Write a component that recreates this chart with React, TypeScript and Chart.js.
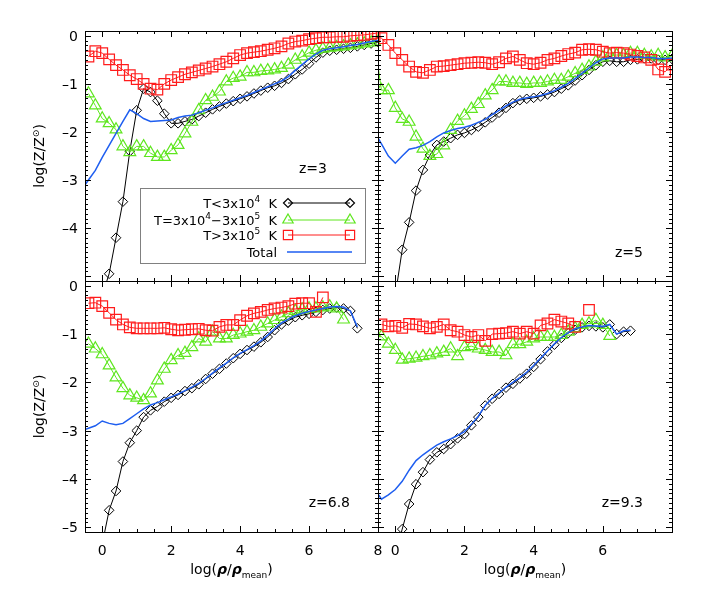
import React, { useEffect, useRef } from 'react';
import { Chart, registerables } from 'chart.js';

Chart.register(...registerables);

const W = 706;
const H = 605;
const FAMILY = '"DejaVu Sans", sans-serif';

// Bins of log(rho/rho_mean)
const X_GRID = [-0.6, -0.4, -0.2, 0.0, 0.2, 0.4, 0.6, 0.8, 1.0, 1.2, 1.4, 1.6, 1.8, 2.0, 2.2, 2.4, 2.6, 2.8, 3.0, 3.2, 3.4, 3.6, 3.8, 4.0, 4.2, 4.4, 4.6, 4.8, 5.0, 5.2, 5.4, 5.6, 5.8, 6.0, 6.2, 6.4, 6.6, 6.8, 7.0, 7.2, 7.4, 7.6, 7.8, 8.0];

// ---- z = 3 ----
const Z3_COLD = [null, null, null, -5.4, -4.95, -4.2, -3.45, -2.4, -1.55, -1.1, -1.17, -1.35, -1.62, -1.82, -1.82, -1.78, -1.74, -1.67, -1.6, -1.53, -1.47, -1.41, -1.36, -1.31, -1.26, -1.2, -1.14, -1.08, -1.04, -0.98, -0.9, -0.8, -0.7, -0.58, -0.45, -0.35, -0.31, -0.29, -0.27, -0.25, -0.22, -0.19, -0.16, -0.13];
const Z3_WARM = [null, -1.2, -1.45, -1.72, -1.82, -1.95, -2.3, -2.42, -2.3, -2.3, -2.44, -2.52, -2.52, -2.38, -2.27, -2.03, -1.79, -1.55, -1.34, -1.27, -1.16, -0.95, -0.88, -0.85, -0.76, -0.76, -0.73, -0.72, -0.7, -0.67, -0.6, -0.5, -0.43, -0.35, -0.3, -0.27, -0.25, -0.24, -0.22, -0.2, -0.18, -0.16, -0.14, -0.12];
const Z3_HOT = [null, -0.43, -0.32, -0.36, -0.49, -0.61, -0.71, -0.82, -0.9, -1.0, -1.1, -1.12, -1.0, -0.92, -0.86, -0.8, -0.76, -0.72, -0.68, -0.64, -0.59, -0.54, -0.47, -0.4, -0.36, -0.34, -0.32, -0.29, -0.26, -0.22, -0.16, -0.12, -0.1, -0.07, -0.05, -0.03, -0.03, -0.02, -0.02, 0.0, 0.01, 0.02, 0.04, 0.06];
const Z3_TOTAL = [-3.2, -3.0, -2.8, -2.53, -2.28, -2.03, -1.78, -1.54, -1.62, -1.72, -1.78, -1.77, -1.76, -1.75, -1.7, -1.67, -1.65, -1.6, -1.55, -1.5, -1.44, -1.39, -1.34, -1.29, -1.24, -1.18, -1.12, -1.06, -1.0, -0.94, -0.85, -0.72, -0.6, -0.48, -0.38, -0.3, -0.27, -0.25, -0.23, -0.2, -0.18, -0.15, -0.12, -0.1];

// ---- z = 5 ----
const Z5_COLD = [null, null, null, -5.4, -4.45, -3.88, -3.22, -2.79, -2.48, -2.27, -2.2, -2.13, -2.06, -2.02, -1.96, -1.89, -1.8, -1.7, -1.6, -1.5, -1.4, -1.34, -1.31, -1.29, -1.26, -1.22, -1.17, -1.1, -1.03, -0.93, -0.82, -0.71, -0.61, -0.54, -0.52, -0.54, -0.54, -0.5, -0.49, -0.47, -0.47, -0.5, -0.5, -0.48];
const Z5_WARM = [-0.12, -1.13, -1.13, -1.5, -1.73, -1.79, -2.1, -2.35, -2.5, -2.46, -2.28, -1.96, -1.77, -1.66, -1.52, -1.42, -1.24, -1.13, -0.95, -0.95, -0.98, -0.98, -1.0, -0.98, -0.98, -0.95, -0.92, -0.92, -0.85, -0.78, -0.71, -0.64, -0.54, -0.45, -0.4, -0.4, -0.4, -0.36, -0.36, -0.4, -0.43, -0.4, -0.45, -0.42];
const Z5_HOT = [0.0, -0.05, -0.19, -0.36, -0.5, -0.64, -0.75, -0.77, -0.71, -0.64, -0.63, -0.61, -0.59, -0.57, -0.56, -0.55, -0.56, -0.59, -0.55, -0.47, -0.43, -0.5, -0.57, -0.59, -0.56, -0.5, -0.47, -0.42, -0.38, -0.35, -0.29, -0.28, -0.29, -0.33, -0.36, -0.35, -0.36, -0.39, -0.42, -0.45, -0.5, -0.7, -0.75, -0.6];
const Z5_TOTAL = [-2.0, -2.25, -2.5, -2.65, -2.5, -2.36, -2.33, -2.28, -2.2, -2.1, -2.02, -1.97, -1.93, -1.9, -1.86, -1.8, -1.74, -1.64, -1.55, -1.46, -1.38, -1.32, -1.29, -1.27, -1.24, -1.2, -1.14, -1.07, -0.99, -0.89, -0.78, -0.67, -0.56, -0.48, -0.46, -0.46, -0.46, -0.44, -0.44, -0.45, -0.45, -0.47, -0.47, -0.46];

// ---- z = 6.8 ----
const Z68_COLD = [null, null, null, -5.35, -4.65, -4.25, -3.64, -3.25, -3.0, -2.72, -2.58, -2.5, -2.4, -2.32, -2.26, -2.18, -2.12, -2.04, -1.93, -1.82, -1.72, -1.61, -1.5, -1.41, -1.33, -1.26, -1.17, -1.06, -0.92, -0.8, -0.72, -0.65, -0.61, -0.58, -0.54, -0.5, -0.47, -0.45, -0.47, -0.52, -0.88, null, null, null];
const Z68_WARM = [null, -1.2, -1.3, -1.42, -1.65, -1.9, -2.12, -2.27, -2.32, -2.37, -2.23, -1.96, -1.72, -1.54, -1.44, -1.39, -1.27, -1.09, -1.16, -0.95, -1.09, -1.09, -1.02, -0.99, -0.95, -0.92, -0.85, -0.78, -0.71, -0.64, -0.57, -0.52, -0.49, -0.47, -0.47, -0.45, -0.43, -0.47, -0.7, null, null, null, null, null];
const Z68_HOT = [null, -0.36, -0.35, -0.42, -0.56, -0.7, -0.8, -0.86, -0.88, -0.88, -0.88, -0.88, -0.87, -0.9, -0.92, -0.91, -0.9, -0.89, -0.92, -0.93, -0.85, -0.81, -0.81, -0.71, -0.62, -0.57, -0.54, -0.5, -0.47, -0.45, -0.42, -0.37, -0.36, -0.36, -0.54, -0.24, null, null, null, null, null, null, null, null];
const Z68_TOTAL = [-3.0, -2.95, -2.9, -2.8, -2.85, -2.88, -2.85, -2.75, -2.65, -2.55, -2.47, -2.42, -2.36, -2.3, -2.24, -2.17, -2.1, -2.02, -1.92, -1.81, -1.7, -1.6, -1.49, -1.4, -1.32, -1.24, -1.14, -1.02, -0.89, -0.77, -0.69, -0.62, -0.57, -0.53, -0.5, -0.47, -0.44, -0.43, -0.44, -0.52, -0.85, null, null, null];

// ---- z = 9.3 ----
const Z93_COLD = [null, null, null, -5.6, -5.04, -4.52, -4.11, -3.86, -3.6, -3.45, -3.38, -3.28, -3.16, -3.07, -2.89, -2.72, -2.48, -2.34, -2.24, -2.11, -2.03, -1.92, -1.82, -1.68, -1.52, -1.36, -1.22, -1.08, -0.98, -0.91, -0.86, -0.83, -0.84, -0.86, -0.8, -1.0, -0.95, -0.93, null, null, null, null, null, null];
const Z93_WARM = [-0.98, -1.05, -1.2, -1.33, -1.53, -1.51, -1.49, -1.46, -1.44, -1.4, -1.37, -1.3, -1.46, -1.27, -1.25, -1.3, -1.33, -1.37, -1.37, -1.44, -1.21, -1.21, -1.16, -1.09, -1.06, -1.06, -1.06, -1.02, -0.95, -0.88, -0.81, -0.78, -0.71, -0.81, -1.04, null, null, null, null, null, null, null, null, null];
const Z93_HOT = [null, -0.8, -0.84, -0.83, -0.87, -0.79, -0.8, -0.84, -0.88, -0.85, -0.8, -0.92, -0.95, -1.02, -1.06, -1.02, -1.14, -1.0, -0.99, -0.98, -0.95, -0.99, -0.95, -0.99, -0.82, -0.78, -0.7, -0.74, -0.78, -0.85, null, -0.5, null, null, null, null, null, null, null, null, null, null, null, null];
const Z93_TOTAL = [-4.2, -4.42, -4.33, -4.22, -4.05, -3.82, -3.62, -3.5, -3.4, -3.3, -3.23, -3.17, -3.1, -3.02, -2.87, -2.7, -2.48, -2.33, -2.22, -2.1, -2.0, -1.9, -1.79, -1.65, -1.5, -1.35, -1.2, -1.07, -0.97, -0.89, -0.85, -0.82, -0.83, -0.84, -0.8, -1.0, -0.93, -0.92, null, null, null, null, null, null];

// Axes
const X_MIN = -0.5;
const X_MAX = 8;
const Y_MIN = -5.1;
const Y_MAX = 0.1;
const X_LABELS_LEFT = [0, 2, 4, 6, 8];
const X_LABELS_RIGHT = [0, 2, 4, 6];
const Y_LABELS_TOP = [0, -1, -2, -3, -4];
const Y_LABELS_BOTTOM = [0, -1, -2, -3, -4, -5];

const SERIES_NAMES = ['T<3x10^4 K', 'T=3x10^4-3x10^5 K', 'T>3x10^5 K', 'Total'];

const COLORS = {
  cold: '#000000',
  warm: '#5ee61e',
  hot: '#ff1c1c',
  total: '#1e5ef0',
};

type Part = { t: string; size?: number; style?: string; dy?: number };

type Panel = {
  name: string;
  zText: string;
  area: { left: number; top: number; right: number; bottom: number };
  cold: (number | null)[];
  warm: (number | null)[];
  hot: (number | null)[];
  total: (number | null)[];
  yLabels: number[] | null;
  xLabels: number[] | null;
  legend: boolean;
  zRightInset: number;
  zBaseline: { fromTop?: number; fromBottom?: number };
};

const PANELS: Panel[] = [
  { name: 'z3', zText: 'z=3', area: { left: 85, top: 31, right: 378, bottom: 281 }, cold: Z3_COLD, warm: Z3_WARM, hot: Z3_HOT, total: Z3_TOTAL, yLabels: Y_LABELS_TOP, xLabels: null, legend: true, zRightInset: 51, zBaseline: { fromTop: 142 } },
  { name: 'z5', zText: 'z=5', area: { left: 378, top: 31, right: 672, bottom: 281 }, cold: Z5_COLD, warm: Z5_WARM, hot: Z5_HOT, total: Z5_TOTAL, yLabels: null, xLabels: null, legend: false, zRightInset: 29, zBaseline: { fromBottom: 24 } },
  { name: 'z68', zText: 'z=6.8', area: { left: 85, top: 281, right: 378, bottom: 532 }, cold: Z68_COLD, warm: Z68_WARM, hot: Z68_HOT, total: Z68_TOTAL, yLabels: Y_LABELS_BOTTOM, xLabels: X_LABELS_LEFT, legend: false, zRightInset: 28, zBaseline: { fromBottom: 25 } },
  { name: 'z93', zText: 'z=9.3', area: { left: 378, top: 281, right: 672, bottom: 532 }, cold: Z93_COLD, warm: Z93_WARM, hot: Z93_HOT, total: Z93_TOTAL, yLabels: null, xLabels: X_LABELS_RIGHT, legend: false, zRightInset: 29, zBaseline: { fromBottom: 25 } },
];

function font(size: number, style = '') {
  return `${style} ${size}px ${FAMILY}`.trim();
}

function drawRich(ctx: CanvasRenderingContext2D, parts: Part[], x: number, y: number, align: 'left' | 'center' | 'right', base: number) {
  const fonts = parts.map((p) => font(p.size ?? base, p.style ?? ''));
  const widths = parts.map((p, i) => {
    ctx.font = fonts[i];
    return ctx.measureText(p.t).width;
  });
  const total = widths.reduce((a, b) => a + b, 0);
  let cx = align === 'left' ? x : align === 'center' ? x - total / 2 : x - total;
  ctx.textAlign = 'left';
  ctx.textBaseline = 'alphabetic';
  parts.forEach((p, i) => {
    ctx.font = fonts[i];
    ctx.fillText(p.t, cx, y + (p.dy ?? 0));
    cx += widths[i];
  });
}

function markerPath(ctx: CanvasRenderingContext2D, style: string, x: number, y: number, r: number) {
  ctx.beginPath();
  if (style === 'rectRot') {
    ctx.moveTo(x - r, y);
    ctx.lineTo(x, y - r);
    ctx.lineTo(x + r, y);
    ctx.lineTo(x, y + r);
    ctx.closePath();
  } else if (style === 'triangle') {
    ctx.moveTo(x, y - r);
    ctx.lineTo(x + 0.866 * r, y + 0.5 * r);
    ctx.lineTo(x - 0.866 * r, y + 0.5 * r);
    ctx.closePath();
  } else {
    const s = Math.SQRT1_2 * r;
    ctx.rect(x - s, y - s, 2 * s, 2 * s);
  }
  ctx.stroke();
}

function label(v: number) {
  return v < 0 ? '\u2013' + String(Math.abs(v)) : String(v);
}

function makePlugin(panel: Panel) {
  return {
    id: 'panelDecor_' + panel.name,
    afterDatasetsDraw(chart: any) {
      const ctx: CanvasRenderingContext2D = chart.ctx;
      const xs = chart.scales.x;
      const ys = chart.scales.y;
      const { left, top, right, bottom } = chart.chartArea;
      ctx.save();
      ctx.strokeStyle = '#000';
      ctx.fillStyle = '#000';
      ctx.lineWidth = 1;

      // Legend (inside first panel)
      if (panel.legend) {
        const bx = left + 55;
        const by = top + 157;
        ctx.fillStyle = '#fff';
        ctx.fillRect(bx, by, 225, 75);
        ctx.strokeStyle = '#808080';
        ctx.strokeRect(bx + 0.5, by + 0.5, 225, 75);
        const textRight = left + 192;
        const m1 = left + 203;
        const m2 = left + 265;
        const rows: { y: number; color: string; style: string | null; r: number; parts: Part[] }[] = [
          { y: top + 172, color: COLORS.cold, style: 'rectRot', r: 4.5, parts: [{ t: 'T<3x10' }, { t: '4', size: 9, dy: -6 }, { t: '  K' }] },
          { y: top + 189, color: COLORS.warm, style: 'triangle', r: 6, parts: [{ t: 'T=3x10' }, { t: '4', size: 9, dy: -6 }, { t: '\u22123x10' }, { t: '5', size: 9, dy: -6 }, { t: '  K' }] },
          { y: top + 204, color: COLORS.hot, style: 'rect', r: 6.5, parts: [{ t: 'T>3x10' }, { t: '5', size: 9, dy: -6 }, { t: '  K' }] },
          { y: top + 221, color: COLORS.total, style: null, r: 0, parts: [{ t: 'Total' }] },
        ];
        rows.forEach((row) => {
          ctx.fillStyle = '#000';
          drawRich(ctx, row.parts, textRight, row.y + 5, 'right', 13);
          ctx.strokeStyle = row.color;
          ctx.lineWidth = row.style ? 1 : 1.5;
          ctx.beginPath();
          ctx.moveTo(row.style ? m1 : m1 - 1, row.y);
          ctx.lineTo(row.style ? m2 : m2 + 2, row.y);
          ctx.stroke();
          if (row.style) {
            ctx.lineWidth = 1.2;
            markerPath(ctx, row.style, m1, row.y, row.r);
            markerPath(ctx, row.style, m2, row.y, row.r);
          }
        });
        ctx.strokeStyle = '#000';
        ctx.fillStyle = '#000';
        ctx.lineWidth = 1;
      }

      // Frame
      ctx.strokeRect(left + 0.5, top + 0.5, right - left, bottom - top);

      // Ticks (inward on all four sides)
      ctx.beginPath();
      for (let k = 0; k <= 16; k++) {
        const v = k * 0.5;
        const px = Math.round(xs.getPixelForValue(v)) + 0.5;
        const len = k % 4 === 0 ? 6 : 3;
        ctx.moveTo(px, bottom);
        ctx.lineTo(px, bottom - len);
        ctx.moveTo(px, top);
        ctx.lineTo(px, top + len);
      }
      for (let k = -51; k <= 1; k++) {
        const v = k / 10;
        const py = Math.round(ys.getPixelForValue(v)) + 0.5;
        const len = k % 10 === 0 ? 6 : 3;
        ctx.moveTo(left, py);
        ctx.lineTo(left + len, py);
        ctx.moveTo(right, py);
        ctx.lineTo(right - len, py);
      }
      ctx.stroke();

      // Tick labels
      ctx.fillStyle = '#000';
      ctx.font = font(14);
      if (panel.yLabels) {
        ctx.textAlign = 'right';
        ctx.textBaseline = 'alphabetic';
        panel.yLabels.forEach((v) => {
          ctx.fillText(label(v), left - 7, ys.getPixelForValue(v) + 5);
        });
        // y title
        ctx.save();
        ctx.translate(39, (top + bottom) / 2);
        ctx.rotate(-Math.PI / 2);
        drawRich(ctx, [{ t: 'log(Z/Z' }, { t: '\u2299', size: 9, dy: -5 }, { t: ')' }], 0, 5, 'center', 14);
        ctx.restore();
      }
      if (panel.xLabels) {
        ctx.font = font(14);
        ctx.textAlign = 'center';
        ctx.textBaseline = 'alphabetic';
        panel.xLabels.forEach((v) => {
          ctx.fillText(label(v), xs.getPixelForValue(v), bottom + 23);
        });
        drawRich(
          ctx,
          [
            { t: 'log(' },
            { t: '\u03c1', style: 'italic bold' },
            { t: '/' },
            { t: '\u03c1', style: 'italic bold' },
            { t: 'mean', size: 9, dy: 4 },
            { t: ')' },
          ],
          (left + right) / 2,
          bottom + 42,
          'center',
          14,
        );
      }

      // Redshift label
      ctx.fillStyle = '#000';
      ctx.font = font(14);
      ctx.textAlign = 'right';
      ctx.textBaseline = 'alphabetic';
      const zy = panel.zBaseline.fromTop !== undefined ? top + panel.zBaseline.fromTop : bottom - (panel.zBaseline.fromBottom ?? 25);
      ctx.fillText(panel.zText, right - panel.zRightInset, zy);
      ctx.restore();
    },
  };
}

function points(ys: (number | null)[]) {
  return X_GRID.map((x, i) => ({ x, y: ys[i] }));
}

function buildConfig(panel: Panel): any {
  const a = panel.area;
  return {
    type: 'line',
    data: {
      datasets: [
        {
          label: SERIES_NAMES[3],
          data: points(panel.total),
          borderColor: COLORS.total,
          borderWidth: 1.5,
          pointRadius: 0,
          fill: false,
          clip: 0,
        },
        {
          label: SERIES_NAMES[2],
          data: points(panel.hot),
          borderColor: COLORS.hot,
          borderWidth: 1,
          pointStyle: 'rect',
          pointRadius: 7.5,
          pointBorderWidth: 1.2,
          pointBorderColor: COLORS.hot,
          pointBackgroundColor: 'rgba(0,0,0,0)',
          fill: false,
          clip: 0,
        },
        {
          label: SERIES_NAMES[1],
          data: points(panel.warm),
          borderColor: COLORS.warm,
          borderWidth: 1,
          pointStyle: 'triangle',
          pointRadius: 6.8,
          pointBorderWidth: 1.2,
          pointBorderColor: COLORS.warm,
          pointBackgroundColor: 'rgba(0,0,0,0)',
          fill: false,
          clip: 0,
        },
        {
          label: SERIES_NAMES[0],
          data: points(panel.cold),
          borderColor: COLORS.cold,
          borderWidth: 1,
          pointStyle: 'rectRot',
          pointRadius: 4.8,
          pointBorderWidth: 1,
          pointBorderColor: COLORS.cold,
          pointBackgroundColor: 'rgba(0,0,0,0)',
          fill: false,
          clip: 0,
        },
      ],
    },
    options: {
      animation: false,
      responsive: false,
      events: [],
      spanGaps: false,
      layout: {
        autoPadding: false,
        padding: { left: a.left, top: a.top, right: W - a.right, bottom: H - a.bottom },
      },
      plugins: {
        legend: { display: false },
        tooltip: { enabled: false },
        title: { display: false },
      },
      scales: {
        x: { type: 'linear', min: X_MIN, max: X_MAX, display: false },
        y: { type: 'linear', min: Y_MIN, max: Y_MAX, display: false },
      },
    },
    plugins: [makePlugin(panel)],
  };
}

function PanelChart({ panel }: { panel: Panel }) {
  const ref = useRef<HTMLCanvasElement | null>(null);
  useEffect(() => {
    if (!ref.current) return;
    const chart = new Chart(ref.current, buildConfig(panel));
    return () => chart.destroy();
  }, [panel]);
  return (
    <canvas
      ref={ref}
      width={W}
      height={H}
      style={{ position: 'absolute', left: 0, top: 0, width: W, height: H }}
    />
  );
}

export default function App() {
  Chart.defaults.font.family = FAMILY;
  return (
    <div style={{ position: 'absolute', left: 0, top: 0, width: W, height: H, background: '#fff', overflow: 'hidden' }}>
      {PANELS.map((p) => (
        <PanelChart key={p.name} panel={p} />
      ))}
    </div>
  );
}
